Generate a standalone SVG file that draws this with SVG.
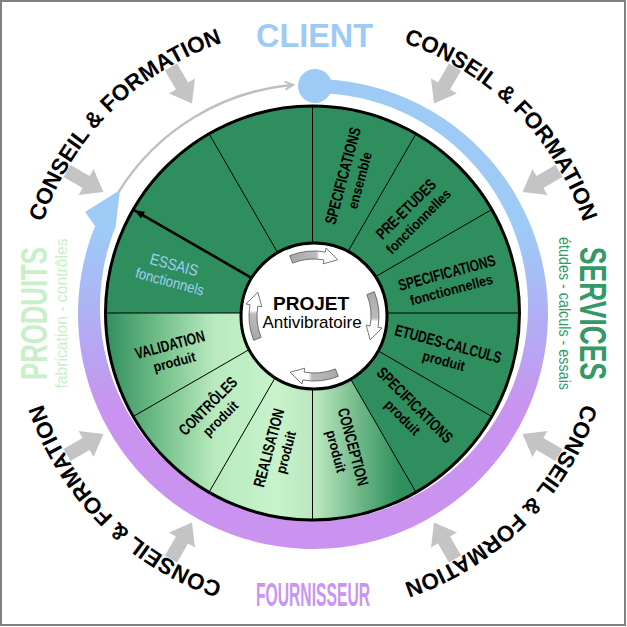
<svg xmlns="http://www.w3.org/2000/svg" width="627" height="627" viewBox="0 0 627 627">
<defs>
<style>
.cf{font-family:"Liberation Sans",Arial,sans-serif;font-weight:bold;font-size:22.5px;fill:#000}
.lm{font-family:"Liberation Sans",Arial,sans-serif;font-size:16px;font-weight:bold;fill:#000;text-anchor:middle}
.ls{font-family:"Liberation Sans",Arial,sans-serif;font-size:14px;font-weight:bold;fill:#000;text-anchor:middle}
.lb{font-family:"Liberation Sans",Arial,sans-serif;fill:#9fcff7;text-anchor:middle}
.dv{stroke:#000;stroke-width:1}
.dk{fill:#2f8e5d}
.lg{fill:url(#lowG)}
.ga{fill:#c4c4c4}
.big{font-family:"Liberation Sans",Arial,sans-serif;font-weight:bold;text-anchor:middle}
.sm{font-family:"Liberation Sans",Arial,sans-serif;text-anchor:middle}
.ha{fill:url(#hubG);stroke:#555;stroke-width:0.8}
</style>
<linearGradient id="bandG" gradientUnits="userSpaceOnUse" x1="0" y1="230" x2="0" y2="410">
<stop offset="0" stop-color="#9dcbf6"/>
<stop offset="0.5" stop-color="#b0aef4"/>
<stop offset="1" stop-color="#c993ef"/>
</linearGradient>
<linearGradient id="lowG" gradientUnits="userSpaceOnUse" x1="105" y1="0" x2="417" y2="0">
<stop offset="0" stop-color="#2f8e5d"/>
<stop offset="0.18" stop-color="#74c08a"/>
<stop offset="0.35" stop-color="#b8eabd"/>
<stop offset="0.55" stop-color="#c8f3cb"/>
<stop offset="0.68" stop-color="#b8e6bd"/>
<stop offset="0.82" stop-color="#6db686"/>
<stop offset="0.94" stop-color="#30905e"/>
<stop offset="1" stop-color="#2f8e5d"/>
</linearGradient>
<linearGradient id="hubG" x1="0" y1="0" x2="1" y2="0">
<stop offset="0" stop-color="#a8a8a8"/>
<stop offset="0.55" stop-color="#bbbbbb"/>
<stop offset="0.62" stop-color="#ffffff"/>
<stop offset="1" stop-color="#ffffff"/>
</linearGradient>
<marker id="ah" markerUnits="userSpaceOnUse" viewBox="0 0 10 8" markerWidth="10" markerHeight="8" refX="10" refY="4" orient="auto">
<path d="M0,0 L10,4 L0,8 Z" fill="#000"/>
</marker>
<marker id="gch" markerUnits="userSpaceOnUse" viewBox="-1 -1 12 12" markerWidth="12" markerHeight="12" refX="9" refY="5" orient="auto" overflow="visible">
<path d="M1,1 L9,5 L1,9" fill="none" stroke="#c0c0c0" stroke-width="2"/>
</marker>
<path id="ga" d="M0,-7 L22,-7 L22,-15 L42,0 L22,15 L22,7 L0,7 Z"/>
<path id="ha" d="M-24.3,-60.3 A65,65 0 0 1 11.3,-64 L12,-68 L23.8,-56.2 L9.2,-52.2 L9.9,-56.1 A57,57 0 0 0 -21.4,-52.9 Z"/>
<path id="tp" d="M598,313 A285,285 0 0 1 28,313 A285,285 0 0 1 598,313" fill="none"/>
</defs>

<rect x="0" y="0" width="627" height="627" fill="#fff"/>
<rect x="1" y="1" width="624" height="624" fill="none" stroke="#808080" stroke-width="2"/>

<g id="connectors">
<path d="M313,79 A235,235 0 1 1 95.1,226 L85,212 L120,190 L115.6,226.8 A214,214 0 1 0 314,93 Z" fill="url(#bandG)"/>
<circle cx="315" cy="86" r="17" fill="#9dcbf6"/>
<path d="M118.8,191.6 A229,229 0 0 1 293,84.9" fill="none" stroke="#c0c0c0" stroke-width="2.5" marker-end="url(#gch)"/>
<g class="ga">
<use href="#ga" transform="rotate(30 313 313) translate(597 313) rotate(180)"/>
<use href="#ga" transform="rotate(60 313 313) translate(597 313) rotate(180)"/>
<use href="#ga" transform="rotate(120 313 313) translate(597 313) rotate(180)"/>
<use href="#ga" transform="rotate(150 313 313) translate(597 313) rotate(180)"/>
<use href="#ga" transform="rotate(210 313 313) translate(597 313) rotate(180)"/>
<use href="#ga" transform="rotate(240 313 313) translate(597 313) rotate(180)"/>
<use href="#ga" transform="rotate(300 313 313) translate(597 313) rotate(180)"/>
<use href="#ga" transform="rotate(330 313 313) translate(597 313) rotate(180)"/>
</g>
</g>

<g id="conseil-formation">
<text class="cf" text-anchor="middle"><textPath href="#tp" startOffset="12.5%">CONSEIL &amp; FORMATION</textPath></text>
<text class="cf" text-anchor="middle"><textPath href="#tp" startOffset="37.5%">CONSEIL &amp; FORMATION</textPath></text>
<text class="cf" text-anchor="middle"><textPath href="#tp" startOffset="62.5%">CONSEIL &amp; FORMATION</textPath></text>
<text class="cf" text-anchor="middle"><textPath href="#tp" startOffset="87.5%">CONSEIL &amp; FORMATION</textPath></text>
</g>

<g id="client"><text class="big" x="314.5" y="47" font-size="34" textLength="117" lengthAdjust="spacingAndGlyphs" fill="#9dcbf6">CLIENT</text></g>
<g id="fournisseur"><text class="big" x="313" y="606" font-size="33" textLength="114" lengthAdjust="spacingAndGlyphs" fill="#c995f4">FOURNISSEUR</text></g>
<g id="produits" transform="translate(47 313.5) rotate(-90)">
<text class="big" x="0" y="0" font-size="37" textLength="133" lengthAdjust="spacingAndGlyphs" fill="#c8f0c8">PRODUITS</text>
<text class="sm" x="0" y="20" font-size="17" textLength="150" lengthAdjust="spacingAndGlyphs" fill="#c8f0c8">fabrication - contrôles</text>
</g>
<g id="services" transform="translate(580 313.5) rotate(90)">
<text class="big" x="0" y="0" font-size="37" textLength="133" lengthAdjust="spacingAndGlyphs" fill="#339966">SERVICES</text>
<text class="sm" x="0" y="21" font-size="17" textLength="153" lengthAdjust="spacingAndGlyphs" fill="#339966">études - calculs - essais</text>
</g>

<g id="wheel">
<circle cx="312.5" cy="313" r="207" class="dk"/>
<g id="seg-specifications-ensemble">
<path class="dk" d="M312.5,313 L312.5,106 A207,207 0 0 1 416,133.7 Z"/>
<g transform="translate(351 178) rotate(-75)"><text class="lm" y="-3" transform="scale(0.75 1)">SPECIFICATIONS</text><text class="ls" y="14" transform="scale(0.9 1)">ensemble</text></g>
</g>
<g id="seg-pre-etudes">
<path class="dk" d="M312.5,313 L416,133.7 A207,207 0 0 1 491.8,209.5 Z"/>
<g transform="translate(412 215) rotate(-45)"><text class="lm" y="-3" transform="scale(0.75 1)">PRE-ETUDES</text><text class="ls" y="14" transform="scale(0.9 1)">fonctionnelles</text></g>
</g>
<g id="seg-specifications-fonctionnelles">
<path class="dk" d="M312.5,313 L491.8,209.5 A207,207 0 0 1 519.5,313 Z"/>
<g transform="translate(449 281) rotate(-15)"><text class="lm" y="-3" transform="scale(0.75 1)">SPECIFICATIONS</text><text class="ls" y="14" transform="scale(0.9 1)">fonctionnelles</text></g>
</g>
<g id="seg-etudes-calculs">
<path class="dk" d="M312.5,313 L519.5,313 A207,207 0 0 1 491.8,416.5 Z"/>
<g transform="translate(446 352) rotate(15)"><text class="lm" y="-3" transform="scale(0.75 1)">ETUDES-CALCULS</text><text class="ls" y="14" transform="scale(0.9 1)">produit</text></g>
</g>
<g id="seg-specifications-produit">
<path class="dk" d="M312.5,313 L491.8,416.5 A207,207 0 0 1 416,492.3 Z"/>
<g transform="translate(409 411) rotate(45)"><text class="lm" y="-3" transform="scale(0.75 1)">SPECIFICATIONS</text><text class="ls" y="14" transform="scale(0.9 1)">produit</text></g>
</g>
<g id="seg-conception">
<path class="lg" d="M312.5,313 L416,492.3 A207,207 0 0 1 312.5,520 Z"/>
<g transform="translate(345 449) rotate(75)"><text class="lm" y="-3" transform="scale(0.75 1)">CONCEPTION</text><text class="ls" y="14" transform="scale(0.9 1)">produit</text></g>
</g>
<g id="seg-realisation">
<path class="lg" d="M312.5,313 L312.5,520 A207,207 0 0 1 209,492.3 Z"/>
<g transform="translate(277 450) rotate(-75)"><text class="lm" y="-3" transform="scale(0.75 1)">REALISATION</text><text class="ls" y="14" transform="scale(0.9 1)">produit</text></g>
</g>
<g id="seg-controles">
<path class="lg" d="M312.5,313 L209,492.3 A207,207 0 0 1 133.2,416.5 Z"/>
<g transform="translate(214 412) rotate(-45)"><text class="lm" y="-3" transform="scale(0.75 1)">CONTRÔLES</text><text class="ls" y="14" transform="scale(0.9 1)">produit</text></g>
</g>
<g id="seg-validation">
<path class="lg" d="M312.5,313 L133.2,416.5 A207,207 0 0 1 105.5,313 Z"/>
<g transform="translate(172 353) rotate(-15)"><text class="lm" y="-3" transform="scale(0.75 1)">VALIDATION</text><text class="ls" y="14" transform="scale(0.9 1)">produit</text></g>
</g>
<g id="seg-essais">
<path class="dk" d="M312.5,313 L105.5,313 A207,207 0 0 1 133.2,209.5 Z"/>
<g transform="translate(172 273) rotate(15)"><text class="lb" y="-3" font-size="16" transform="scale(0.85 1)">ESSAIS</text><text class="lb" y="14" font-size="15" transform="scale(0.88 1)">fonctionnels</text></g>
</g>
<g id="seg-empty-1"><path class="dk" d="M312.5,313 L133.2,209.5 A207,207 0 0 1 209,133.7 Z"/></g>
<g id="seg-empty-2"><path class="dk" d="M312.5,313 L209,133.7 A207,207 0 0 1 312.5,106 Z"/></g>
<g id="dividers" class="dv">
<line x1="312.5" y1="313" x2="519.5" y2="313"/>
<line x1="312.5" y1="313" x2="491.8" y2="416.5"/>
<line x1="312.5" y1="313" x2="416" y2="492.3"/>
<line x1="312.5" y1="313" x2="312.5" y2="520"/>
<line x1="312.5" y1="313" x2="209" y2="492.3"/>
<line x1="312.5" y1="313" x2="133.2" y2="416.5"/>
<line x1="312.5" y1="313" x2="105.5" y2="313"/>
<line x1="312.5" y1="313" x2="209" y2="133.7"/>
<line x1="312.5" y1="313" x2="312.5" y2="106"/>
<line x1="312.5" y1="313" x2="416" y2="133.7"/>
<line x1="312.5" y1="313" x2="491.8" y2="209.5"/>
<line x1="312.5" y1="313" x2="134.5" y2="210.3" stroke-width="2.6" marker-end="url(#ah)"/>
</g>
<circle cx="312.5" cy="313" r="207" fill="none" stroke="#000" stroke-width="3"/>
</g>

<g id="hub">
<circle cx="314" cy="316" r="73" fill="#fff" stroke="#000" stroke-width="3"/>
<use href="#ha" class="ha" transform="translate(314 316)"/>
<use href="#ha" class="ha" transform="translate(314 316) rotate(90)"/>
<use href="#ha" class="ha" transform="translate(314 316) rotate(180)"/>
<use href="#ha" class="ha" transform="translate(314 316) rotate(270)"/>
<text class="big" x="311" y="310" font-size="19">PROJET</text>
<text class="sm" x="312" y="328" font-size="17">Antivibratoire</text>
</g>
</svg>
